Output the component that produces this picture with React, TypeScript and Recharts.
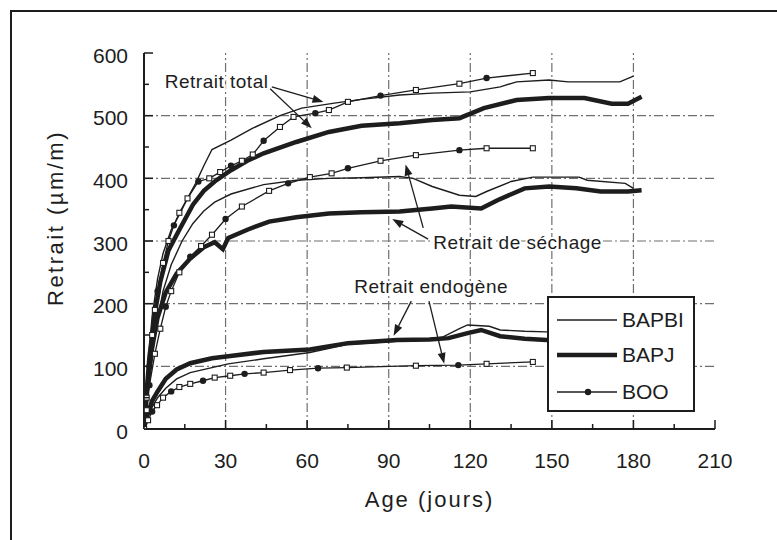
import { LineChart, Line, XAxis, YAxis, ReferenceLine, ReferenceDot, Legend } from 'recharts';

const INK = '#1d1d1d';
const GRID = '#6f6f6f';
const FONT = '"Liberation Sans", Arial, Helvetica, sans-serif';

// axis ticks (labels only on the multiples of 30 / 100)
const xTicks = [0, 15, 30, 45, 60, 75, 90, 105, 120, 135, 150, 165, 180, 195, 210];
const yTicks = [0, 50, 100, 150, 200, 250, 300, 350, 400, 450, 500, 550, 600];
const xGrid = [30, 60, 90, 120, 150, 180];
const yGrid = [100, 200, 300, 400, 500];

// Retrait total
const bapbiTotalDays = [0, 1, 2, 3, 5, 7, 10, 13, 16, 19, 22, 25, 32, 40, 50, 58, 70, 80, 94, 106, 120, 131, 137, 149, 156, 166, 175, 180];
const bapbiTotalVals = [0, 70, 130, 180, 240, 280, 318, 342, 368, 392, 420, 446, 461, 480, 500, 512, 520, 526, 533, 536, 538, 546, 554, 557, 554, 554, 554, 563];
const bapjTotalDays = [0, 1, 2, 4, 6, 9, 13, 18, 22, 26, 32, 38, 44, 56, 68, 80, 94, 106, 116, 125, 137, 149, 162, 172, 178, 183];
const bapjTotalVals = [0, 60, 115, 185, 235, 285, 318, 358, 380, 395, 413, 428, 440, 458, 474, 484, 488, 493, 496, 512, 525, 528, 528, 519, 519, 530];
const booTotalDays = [0, 1, 2, 3, 4, 5, 7, 9, 11, 13, 16, 20, 24, 28, 32, 36, 40, 44, 50, 55, 63, 68, 75, 87, 100, 116, 126, 143];
const booTotalVals = [0, 50, 100, 150, 190, 220, 265, 300, 325, 345, 368, 395, 400, 410, 420, 428, 438, 460, 482, 498, 504, 509, 522, 532, 541, 551, 560, 568];

// Retrait de séchage
const bapbiDryDays = [0, 2, 4, 7, 10, 14, 18, 22, 26, 32, 44, 56, 68, 80, 94, 99, 106, 116, 122, 126, 135, 143, 160, 163, 177, 180];
const bapbiDryVals = [0, 80, 150, 220, 262, 300, 328, 348, 362, 375, 390, 397, 400, 401, 403, 400, 387, 373, 371, 379, 395, 402, 402, 397, 392, 384];
const bapjDryDays = [0, 1, 3, 5, 8, 12, 17, 22, 26, 29, 31, 38, 46, 56, 68, 80, 94, 106, 113, 124, 130, 140, 149, 159, 168, 178, 183];
const bapjDryVals = [0, 60, 130, 178, 218, 248, 272, 290, 298, 287, 305, 318, 331, 338, 344, 346, 347, 352, 355, 352, 365, 384, 387, 384, 379, 379, 381];
const booDryDays = [0, 1, 2, 4, 6, 8, 10, 13, 17, 21, 25, 30, 36, 46, 53, 61, 69, 75, 87, 100, 116, 126, 143];
const booDryVals = [0, 30, 70, 120, 160, 195, 220, 250, 275, 292, 310, 335, 355, 380, 392, 402, 408, 416, 428, 437, 445, 448, 448];

// Retrait endogène
const bapbiEndoDays = [0, 1, 3, 5, 8, 12, 17, 25, 31, 44, 61, 75, 93, 105, 110, 116, 119, 127, 131, 140, 148, 160];
const bapbiEndoVals = [0, 15, 35, 50, 65, 80, 90, 98, 104, 112, 122, 135, 140, 143, 147, 160, 166, 164, 158, 156, 155, 155];
const bapjEndoDays = [0, 1, 3, 5, 8, 12, 17, 25, 31, 44, 61, 75, 93, 105, 112, 119, 124, 131, 140, 148, 160];
const bapjEndoVals = [0, 20, 45, 60, 80, 95, 105, 113, 116, 123, 127, 137, 142, 143, 145, 153, 158, 148, 144, 142, 142];
const booEndoDays = [0, 1.5, 3, 4.8, 7, 10, 13, 17, 21.7, 26, 31.7, 37, 44, 53.7, 64, 74.6, 100, 115.6, 126, 143];
const booEndoVals = [0, 14, 28, 38, 50, 60, 67, 72, 77, 82, 85, 88, 90, 94, 97, 98, 101, 102, 104, 107];

const legendNames = ['BAPBI', 'BAPJ', 'BOO'];

// annotations (data coordinates)
const noteTexts = [
  { text: 'Retrait total', x: 26.7, y: 554 },
  { text: 'Retrait de séchage', x: 137.4, y: 297 },
  { text: 'Retrait endogène', x: 105.6, y: 228 },
];
const noteArrows = [
  { x1: 47, y1: 546, x2: 66, y2: 522 },
  { x1: 46.4, y1: 543, x2: 61.7, y2: 480 },
  { x1: 102.7, y1: 321, x2: 96.2, y2: 422 },
  { x1: 104.5, y1: 303, x2: 91.3, y2: 335 },
  { x1: 98.3, y1: 204, x2: 91.8, y2: 149 },
  { x1: 104.8, y1: 204, x2: 110.4, y2: 104 },
];

const toPoints = (days: number[], vals: number[]) => days.map((x, i) => ({ x, y: vals[i] }));

const MAJOR = 9;
const MINOR = 5;

const BottomTick = (props: any) => {
  const { x, y, payload } = props;
  const major = payload.value % 30 === 0;
  return (
    <g>
      <line x1={x} y1={y} x2={x} y2={y - (major ? MAJOR : MINOR)} stroke={INK} strokeWidth={1.5} />
      {major && (
        <text x={x} y={y + 39} textAnchor="middle" fontSize={21} fill={INK} fontFamily={FONT}>
          {payload.value}
        </text>
      )}
    </g>
  );
};

const TopTick = (props: any) => {
  const { x, y, payload } = props;
  const major = payload.value % 30 === 0;
  return <line x1={x} y1={y} x2={x} y2={y + (major ? MAJOR : MINOR)} stroke={INK} strokeWidth={1.5} />;
};

const LeftTick = (props: any) => {
  const { x, y, payload } = props;
  const major = payload.value % 100 === 0;
  return (
    <g>
      <line x1={x} y1={y} x2={x + (major ? MAJOR : MINOR)} y2={y} stroke={INK} strokeWidth={1.5} />
      {major && (
        <text x={x - 16} y={y + 2} textAnchor="end" dominantBaseline="central" fontSize={21} fill={INK} fontFamily={FONT}>
          {payload.value}
        </text>
      )}
    </g>
  );
};

const RightTick = (props: any) => {
  const { x, y, payload } = props;
  const major = payload.value % 100 === 0;
  return <line x1={x} y1={y} x2={x - (major ? MAJOR : MINOR)} y2={y} stroke={INK} strokeWidth={1.5} />;
};

const BooDot = (props: any) => {
  const { cx, cy, index } = props;
  if (cx == null || cy == null) return <g />;
  if (index % 3 === 2) {
    return <circle cx={cx} cy={cy} r={3.2} fill={INK} />;
  }
  return <rect x={cx - 2.5} y={cy - 2.5} width={5} height={5} fill="#fff" stroke={INK} strokeWidth={1.1} />;
};

const Arrow = (props: any) => {
  const { x1, y1, x2, y2 } = props;
  const a = Math.atan2(y2 - y1, x2 - x1);
  const len = 11;
  const half = 4;
  const bx = x2 - len * Math.cos(a);
  const by = y2 - len * Math.sin(a);
  const pts = `${x2},${y2} ${bx + half * Math.sin(a)},${by - half * Math.cos(a)} ${bx - half * Math.sin(a)},${by + half * Math.cos(a)}`;
  return (
    <g>
      <line x1={x1} y1={y1} x2={bx} y2={by} stroke={INK} strokeWidth={1.3} />
      <polygon points={pts} fill={INK} />
    </g>
  );
};

const YTitle = (props: any) => {
  const vb = props.viewBox || { y: 53, height: 376 };
  const cy = vb.y + vb.height / 2 - 23;
  return (
    <text
      transform={`translate(63, ${cy}) rotate(-90)`}
      textAnchor="middle"
      fontSize={22}
      letterSpacing={2.5}
      fill={INK}
      fontFamily={FONT}
    >
      Retrait (µm/m)
    </text>
  );
};

const XTitle = (props: any) => {
  const vb = props.viewBox || { x: 144, y: 429, width: 571 };
  return (
    <text x={vb.x + vb.width / 2} y={vb.y + 78} textAnchor="middle" fontSize={22} letterSpacing={2} fill={INK} fontFamily={FONT}>
      Age (jours)
    </text>
  );
};

function LegendBox() {
  const rows = [22, 57, 94];
  return (
    <div
      style={{
        position: 'relative',
        width: 148,
        height: 116,
        boxSizing: 'border-box',
        border: `2px solid ${INK}`,
        background: '#fff',
        fontFamily: FONT,
        fontSize: 21,
        color: INK,
      }}
    >
      {legendNames.map((name, i) => (
        <div key={name} style={{ position: 'absolute', left: 8, top: rows[i] - 14, height: 28, display: 'flex', alignItems: 'center' }}>
          <svg width={62} height={14}>
            <line x1={0} y1={7} x2={60} y2={7} stroke={INK} strokeWidth={i === 1 ? 4.5 : 1.5} />
            {i === 2 && <circle cx={31} cy={7} r={3.2} fill={INK} />}
          </svg>
          <span style={{ marginLeft: 3, lineHeight: '28px' }}>{name}</span>
        </div>
      ))}
    </div>
  );
}

const series = [
  { key: 'bapbiTotal', data: toPoints(bapbiTotalDays, bapbiTotalVals), width: 1.4, boo: false },
  { key: 'bapbiDry', data: toPoints(bapbiDryDays, bapbiDryVals), width: 1.4, boo: false },
  { key: 'bapbiEndo', data: toPoints(bapbiEndoDays, bapbiEndoVals), width: 1.4, boo: false },
  { key: 'bapjTotal', data: toPoints(bapjTotalDays, bapjTotalVals), width: 4.5, boo: false },
  { key: 'bapjDry', data: toPoints(bapjDryDays, bapjDryVals), width: 4.5, boo: false },
  { key: 'bapjEndo', data: toPoints(bapjEndoDays, bapjEndoVals), width: 4.5, boo: false },
  { key: 'booTotal', data: toPoints(booTotalDays, booTotalVals), width: 1.3, boo: true },
  { key: 'booDry', data: toPoints(booDryDays, booDryVals), width: 1.3, boo: true },
  { key: 'booEndo', data: toPoints(booEndoDays, booEndoVals), width: 1.3, boo: true },
];

export default function App() {
  return (
    <div style={{ position: 'absolute', left: 0, top: 0, width: 777, height: 540, overflow: 'hidden', background: '#fff' }}>
      <div
        style={{
          position: 'absolute',
          left: 10,
          top: 10,
          width: 767,
          height: 530,
          borderTop: `2px solid ${INK}`,
          borderLeft: `2px solid ${INK}`,
        }}
      />
      <LineChart width={777} height={540} margin={{ top: 53, right: 62, left: 0, bottom: 0 }}>
        {xGrid.map((v) => (
          <ReferenceLine key={`gx${v}`} x={v} stroke={GRID} strokeWidth={1.2} strokeDasharray="9 3 2 3" />
        ))}
        {yGrid.map((v) => (
          <ReferenceLine key={`gy${v}`} y={v} stroke={GRID} strokeWidth={1.2} strokeDasharray="9 3 2 3" />
        ))}
        <XAxis
          dataKey="x"
          type="number"
          domain={[0, 210]}
          ticks={xTicks}
          interval={0}
          allowDataOverflow
          height={111}
          tickSize={0}
          tickMargin={0}
          tickLine={false}
          tick={BottomTick}
          axisLine={{ stroke: INK, strokeWidth: 2 }}
          label={XTitle}
        />
        <XAxis
          xAxisId="top"
          orientation="top"
          dataKey="x"
          type="number"
          domain={[0, 210]}
          ticks={xTicks}
          interval={0}
          allowDataOverflow
          height={0}
          tickSize={0}
          tickMargin={0}
          tickLine={false}
          tick={TopTick}
          axisLine={{ stroke: INK, strokeWidth: 2 }}
        />
        <YAxis
          type="number"
          domain={[0, 600]}
          ticks={yTicks}
          interval={0}
          allowDataOverflow
          width={144}
          tickSize={0}
          tickMargin={0}
          tickLine={false}
          tick={LeftTick}
          axisLine={{ stroke: INK, strokeWidth: 2 }}
          label={YTitle}
        />
        <YAxis
          yAxisId="right"
          orientation="right"
          type="number"
          domain={[0, 600]}
          ticks={yTicks}
          interval={0}
          allowDataOverflow
          width={0}
          tickSize={0}
          tickMargin={0}
          tickLine={false}
          tick={RightTick}
          axisLine={{ stroke: INK, strokeWidth: 2 }}
        />
        {series.map((s) => (
          <Line
            key={s.key}
            data={s.data}
            dataKey="y"
            type="linear"
            stroke={INK}
            strokeWidth={s.width}
            dot={s.boo ? BooDot : false}
            activeDot={false}
            isAnimationActive={false}
          />
        ))}
        {noteArrows.map((a, i) => (
          <ReferenceLine
            key={`arrow${i}`}
            segment={[
              { x: a.x1, y: a.y1 },
              { x: a.x2, y: a.y2 },
            ]}
            shape={Arrow}
          />
        ))}
        {noteTexts.map((n) => (
          <ReferenceDot
            key={n.text}
            x={n.x}
            y={n.y}
            r={1}
            shape={(p: any) => (
              <text
                x={p.cx}
                y={p.cy}
                textAnchor="middle"
                dominantBaseline="central"
                fontSize={19}
                letterSpacing={0.5}
                fill={INK}
                fontFamily={FONT}
                stroke="#fff"
                strokeWidth={4}
                paintOrder="stroke"
              >
                {n.text}
              </text>
            )}
          />
        ))}
        <Legend
          layout="vertical"
          align="center"
          verticalAlign="middle"
          content={() => <LegendBox />}
          wrapperStyle={{ left: 547, top: 296, width: 148, height: 116 }}
        />
      </LineChart>
    </div>
  );
}
